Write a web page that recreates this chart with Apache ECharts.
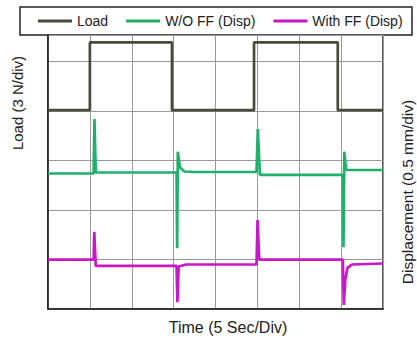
<!DOCTYPE html>
<html>
<head>
<meta charset="utf-8">
<script src="https://cdn.jsdelivr.net/npm/echarts@6/dist/echarts.min.js"></script>
<style>
html,body{margin:0;padding:0;background:#fff;}
#chart{width:417px;height:341px;}
</style>
</head>
<body>
<div id="chart"></div>
<script>
// Values in screen divisions (y) vs time in seconds (x, 5 s/div)
var seriesNames = ['Load', 'W/O FF (Disp)', 'With FF (Disp)'];
var xTitle = 'Time (5 Sec/Div)';
var yLeftTitle = 'Load (3 N/div)';
var yRightTitle = 'Displacement (0.5 mm/div)';

var loadData = [
  [0, 4.02], [5.0, 4.02], [5.0, 5.39], [14.8, 5.39], [14.8, 4.02],
  [24.6, 4.02], [24.6, 5.39], [34.6, 5.39], [34.6, 4.02], [40, 4.02]
];
var woffData = [
  [0, 2.74], [5.45, 2.74], [5.55, 3.84], [5.7, 2.76], [15.35, 2.76],
  [15.42, 1.23], [15.5, 3.18], [15.75, 2.86], [16.3, 2.78], [17.5, 2.77],
  [24.9, 2.77], [25.05, 3.64], [25.3, 2.71], [35.2, 2.71],
  [35.28, 1.25], [35.38, 3.18], [35.6, 2.81], [40, 2.81]
];
var withffData = [
  [0, 1.00], [5.45, 1.00], [5.52, 1.56], [5.7, 0.87], [15.35, 0.87],
  [15.45, 0.135], [15.6, 0.86], [16.5, 0.90], [24.9, 0.90],
  [25.02, 1.80], [25.22, 1.00], [35.2, 1.00],
  [35.32, 0.08], [35.5, 0.6], [35.75, 0.83], [36.3, 0.9], [40, 0.92]
];

var colors = ['#4a4a3a', '#1fb06a', '#c816c8'];

var chart = echarts.init(document.getElementById('chart'), null, {renderer: 'svg'});
function lineSeries(name, data, color) {
  return {
    name: name, type: 'line', data: data, showSymbol: false, symbol: 'none',
    lineStyle: {color: color, width: 2.7}, itemStyle: {color: color},
    animation: false, z: 3
  };
}
var font = 'Liberation Sans, Arial, sans-serif';
var option = {
  animation: false,
  backgroundColor: '#fff',
  grid: {left: 48, right: 34, top: 35, bottom: 32, show: true, borderColor: '#222', borderWidth: 1.5},
  legend: {
    data: seriesNames, left: 38, top: 14, padding: 0, itemGap: 18,
    itemWidth: 34, itemHeight: 3, icon: 'rect', z: 5,
    textStyle: {fontSize: 14, color: '#222', fontFamily: font}
  },
  xAxis: {
    type: 'value', min: 0, max: 40, interval: 5,
    axisLine: {show: true, lineStyle: {color: '#222', width: 1.5}},
    axisTick: {show: false}, axisLabel: {show: false},
    splitLine: {show: true, lineStyle: {color: '#999', width: 1}}
  },
  yAxis: {
    type: 'value', min: 0, max: 5.54, interval: 1,
    axisLine: {show: true, lineStyle: {color: '#222', width: 1.5}},
    axisTick: {show: false}, axisLabel: {show: false},
    splitLine: {show: true, lineStyle: {color: '#999', width: 1}}
  },
  graphic: [
    {type: 'rect', z: 0, shape: {x: 20, y: 7, width: 392, height: 28},
     style: {fill: '#fff', stroke: '#222', lineWidth: 1.5}},
    {type: 'text', x: 228, y: 327, z: 5,
     style: {text: xTitle, fontSize: 16, fill: '#222', textAlign: 'center', textVerticalAlign: 'middle', fontFamily: font}},
    {type: 'text', x: 17, y: 103, rotation: Math.PI / 2, z: 5,
     style: {text: yLeftTitle, fontSize: 15, fill: '#222', textAlign: 'center', textVerticalAlign: 'middle', fontFamily: font}},
    {type: 'text', x: 407, y: 192, rotation: Math.PI / 2, z: 5,
     style: {text: yRightTitle, fontSize: 15.5, fill: '#222', textAlign: 'center', textVerticalAlign: 'middle', fontFamily: font}}
  ],
  series: [
    lineSeries(seriesNames[0], loadData, colors[0]),
    lineSeries(seriesNames[1], woffData, colors[1]),
    lineSeries(seriesNames[2], withffData, colors[2])
  ]
};
chart.setOption(option);
</script>
</body>
</html>
